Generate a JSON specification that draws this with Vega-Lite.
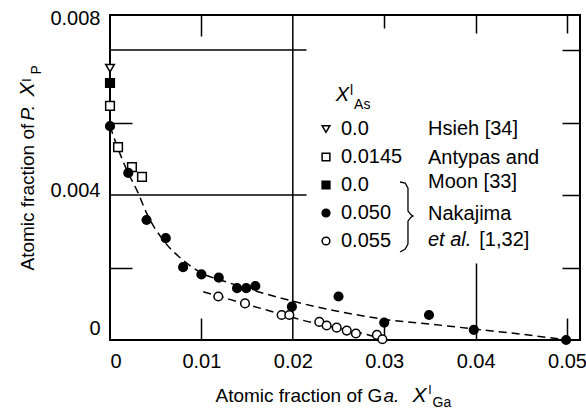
{
  "$schema": "https://vega.github.io/schema/vega-lite/v6.json",
  "width": 470,
  "height": 325,
  "autosize": {"type": "none"},
  "padding": {"left": 110, "top": 15, "right": 6, "bottom": 70},
  "background": "white",
  "config": {
    "font": "Liberation Sans",
    "view": {"stroke": "black", "strokeWidth": 2},
    "axis": {"grid": false, "domain": false, "labelColor": "black", "titleColor": "black", "tickColor": "black", "titleFontWeight": "normal", "titleFont": "Liberation Sans", "labelFont": "Liberation Sans"},
    "legend": {"title": null, "orient": "none", "legendX": 206, "legendY": 104, "padding": 0, "rowPadding": 8, "labelOffset": 5,
      "labelFontSize": 20, "labelFont": "Liberation Sans", "labelColor": "black", "symbolSize": 60, "symbolStrokeWidth": 1.5}
  },
  "datasets": {
    "gridlines": [
      {"x": 0, "x2": 0.0215, "y": 0.008, "y2": 0.008},
      {"x": 0, "x2": 0.0215, "y": 0.004, "y2": 0.004},
      {"x": 0.02, "x2": 0.02, "y": 0, "y2": 0.008966}
    ],
    "curves": [
      {"curve": "upper", "x": 0, "y": 0.0059},
      {"curve": "upper", "x": 0.001, "y": 0.0052},
      {"curve": "upper", "x": 0.002, "y": 0.0046},
      {"curve": "upper", "x": 0.003, "y": 0.0041},
      {"curve": "upper", "x": 0.004, "y": 0.0035},
      {"curve": "upper", "x": 0.006, "y": 0.0027},
      {"curve": "upper", "x": 0.008, "y": 0.0022},
      {"curve": "upper", "x": 0.010, "y": 0.00185},
      {"curve": "upper", "x": 0.0124, "y": 0.00163},
      {"curve": "upper", "x": 0.0168, "y": 0.00129},
      {"curve": "upper", "x": 0.0208, "y": 0.00102},
      {"curve": "upper", "x": 0.0252, "y": 0.00078},
      {"curve": "upper", "x": 0.030, "y": 0.00057},
      {"curve": "upper", "x": 0.035, "y": 0.00044},
      {"curve": "upper", "x": 0.040, "y": 0.0003},
      {"curve": "upper", "x": 0.045, "y": 0.00016},
      {"curve": "upper", "x": 0.050, "y": 0.0},
      {"curve": "lower", "x": 0.0102, "y": 0.00133},
      {"curve": "lower", "x": 0.0131, "y": 0.00112},
      {"curve": "lower", "x": 0.0175, "y": 0.0008},
      {"curve": "lower", "x": 0.021, "y": 0.00055},
      {"curve": "lower", "x": 0.0244, "y": 0.00036},
      {"curve": "lower", "x": 0.0281, "y": 0.00015},
      {"curve": "lower", "x": 0.0298, "y": 0.00002}
    ],
    "brace": [
      {"i": 1, "x": 0.03173, "y": 0.004359},
      {"i": 2, "x": 0.0323, "y": 0.00433},
      {"i": 3, "x": 0.0326, "y": 0.00419},
      {"i": 4, "x": 0.0326, "y": 0.00356},
      {"i": 5, "x": 0.0329, "y": 0.00346},
      {"i": 6, "x": 0.03315, "y": 0.003421},
      {"i": 7, "x": 0.0329, "y": 0.00338},
      {"i": 8, "x": 0.0326, "y": 0.00328},
      {"i": 9, "x": 0.0326, "y": 0.00265},
      {"i": 10, "x": 0.0323, "y": 0.00251},
      {"i": 11, "x": 0.03173, "y": 0.002428}
    ],
    "notes": [
      {"label": "Hsieh [34]", "x": 0.03479, "y": 0.005655},
      {"label": "Antypas and", "x": 0.03479, "y": 0.004855},
      {"label": "Moon [33]", "x": 0.03479, "y": 0.004193},
      {"label": "Nakajima", "x": 0.03479, "y": 0.00331},
      {"label": "[1,32]", "x": 0.0404, "y": 0.002593}
    ],
    "notesItalic": [
      {"label": "et al.", "x": 0.03479, "y": 0.002593},
      {"label": "X", "x": 0.0247, "y": 0.006593}
    ],
    "notesSmall": [
      {"label": "l", "x": 0.02625, "y": 0.00676},
      {"label": "As", "x": 0.0267, "y": 0.00637}
    ],
    "points": [
      {"series": "Hsieh", "xga": 0, "xp": 0.0075},
      {"series": "Antypas", "xga": 0, "xp": 0.00646},
      {"series": "Antypas", "xga": 0.00088, "xp": 0.00532},
      {"series": "Antypas", "xga": 0.0024, "xp": 0.00477},
      {"series": "Antypas", "xga": 0.0035, "xp": 0.0045},
      {"series": "Nak0", "xga": 0, "xp": 0.00709},
      {"series": "Nak050", "xga": 0, "xp": 0.0059},
      {"series": "Nak050", "xga": 0.002, "xp": 0.00461},
      {"series": "Nak050", "xga": 0.004, "xp": 0.00331},
      {"series": "Nak050", "xga": 0.0061, "xp": 0.00281},
      {"series": "Nak050", "xga": 0.008, "xp": 0.00201},
      {"series": "Nak050", "xga": 0.010, "xp": 0.00181},
      {"series": "Nak050", "xga": 0.0119, "xp": 0.00172},
      {"series": "Nak050", "xga": 0.0139, "xp": 0.00143},
      {"series": "Nak050", "xga": 0.0149, "xp": 0.00143},
      {"series": "Nak050", "xga": 0.0159, "xp": 0.00149},
      {"series": "Nak050", "xga": 0.0199, "xp": 0.00092},
      {"series": "Nak050", "xga": 0.025, "xp": 0.0012},
      {"series": "Nak050", "xga": 0.030, "xp": 0.00048},
      {"series": "Nak050", "xga": 0.0349, "xp": 0.00069},
      {"series": "Nak050", "xga": 0.0398, "xp": 0.00028},
      {"series": "Nak050", "xga": 0.0499, "xp": 0.0},
      {"series": "Nak055", "xga": 0.01185, "xp": 0.0012},
      {"series": "Nak055", "xga": 0.01477, "xp": 0.00101},
      {"series": "Nak055", "xga": 0.01878, "xp": 0.00069},
      {"series": "Nak055", "xga": 0.01962, "xp": 0.00069},
      {"series": "Nak055", "xga": 0.0229, "xp": 0.0005},
      {"series": "Nak055", "xga": 0.0237, "xp": 0.0004},
      {"series": "Nak055", "xga": 0.0248, "xp": 0.00034},
      {"series": "Nak055", "xga": 0.0259, "xp": 0.00026},
      {"series": "Nak055", "xga": 0.0269, "xp": 0.00018},
      {"series": "Nak055", "xga": 0.0292, "xp": 0.00014},
      {"series": "Nak055", "xga": 0.0298, "xp": 0.00002}
    ]
  },
  "resolve": {"axis": {"x": "independent", "y": "independent"}},
  "layer": [
    {
      "data": {"name": "gridlines"},
      "mark": {"type": "rule", "stroke": "black", "strokeWidth": 1.5},
      "encoding": {
        "x": {"field": "x", "type": "quantitative", "scale": {"domain": [0, 0.05142], "nice": false, "zero": false},
          "axis": {"orient": "bottom", "values": [0.01, 0.03, 0.04, 0.05], "labels": false, "ticks": true, "tickWidth": 1.5,
            "tickSize": {"condition": {"test": "datum.value == 0.04", "value": -77}, "value": -22},
            "title": "a.", "titleFontStyle": "italic", "titleFontSize": 19, "titleX": 273, "titleY": 61, "titleAlign": "left", "titleBaseline": "alphabetic"}},
        "x2": {"field": "x2"},
        "y": {"field": "y", "type": "quantitative", "scale": {"domain": [0, 0.008966], "nice": false, "zero": false},
          "axis": {"orient": "left", "values": [0.002, 0.006], "labels": false, "ticks": true, "tickWidth": 1.5, "tickSize": -22,
            "title": "P.", "titleFontStyle": "italic", "titleFontSize": 19, "titleX": -77, "titleY": 105, "titleAngle": -90, "titleAlign": "left", "titleBaseline": "alphabetic"}},
        "y2": {"field": "y2"}
      }
    },
    {
      "data": {"name": "curves"},
      "mark": {"type": "line", "stroke": "black", "strokeWidth": 1.5, "strokeDash": [8, 5], "interpolate": "monotone"},
      "encoding": {
        "x": {"field": "x", "type": "quantitative", "scale": {"domain": [0, 0.05142], "nice": false, "zero": false},
          "axis": {"orient": "top", "values": [0.01, 0.03, 0.04, 0.05], "labels": false, "ticks": true, "tickWidth": 1.5,
            "tickSize": {"condition": [{"test": "datum.value == 0.01", "value": -21}, {"test": "datum.value == 0.03", "value": -13}], "value": -18},
            "title": null}},
        "y": {"field": "y", "type": "quantitative", "scale": {"domain": [0, 0.008966], "nice": false, "zero": false},
          "axis": {"orient": "right", "values": [0.002, 0.004, 0.006, 0.008], "labels": false, "ticks": true, "tickWidth": 1.5, "tickSize": -18, "title": null}},
        "detail": {"field": "curve"}
      }
    },
    {
      "data": {"name": "brace"},
      "mark": {"type": "line", "stroke": "black", "strokeWidth": 1.3},
      "encoding": {
        "x": {"field": "x", "type": "quantitative", "scale": {"domain": [0, 0.05142], "nice": false, "zero": false},
          "axis": {"orient": "bottom", "labels": false, "ticks": false, "title": "X", "titleFontStyle": "italic", "titleFontSize": 21, "titleX": 302, "titleY": 61, "titleAlign": "left", "titleBaseline": "alphabetic"}},
        "y": {"field": "y", "type": "quantitative", "scale": {"domain": [0, 0.008966], "nice": false, "zero": false},
          "axis": {"orient": "left", "labels": false, "ticks": false, "title": "X", "titleFontStyle": "italic", "titleFontSize": 21, "titleX": -77, "titleY": 81, "titleAngle": -90, "titleAlign": "left", "titleBaseline": "alphabetic"}},
        "order": {"field": "i", "type": "quantitative"}
      }
    },
    {
      "data": {"name": "notes"},
      "mark": {"type": "text", "align": "left", "baseline": "alphabetic", "fontSize": 20, "font": "Liberation Sans", "color": "black"},
      "encoding": {
        "x": {"field": "x", "type": "quantitative", "scale": {"domain": [0, 0.05142], "nice": false, "zero": false},
          "axis": {"orient": "bottom", "labels": false, "ticks": false, "title": "l", "titleFontSize": 13, "titleX": 318, "titleY": 53, "titleAlign": "left", "titleBaseline": "alphabetic"}},
        "y": {"field": "y", "type": "quantitative", "scale": {"domain": [0, 0.008966], "nice": false, "zero": false},
          "axis": {"orient": "left", "labels": false, "ticks": false, "title": "l", "titleFontSize": 13, "titleX": -80, "titleY": 66, "titleAngle": -90, "titleAlign": "left", "titleBaseline": "alphabetic"}},
        "text": {"field": "label"}
      }
    },
    {
      "data": {"name": "notesItalic"},
      "mark": {"type": "text", "align": "left", "baseline": "alphabetic", "fontSize": 20, "fontStyle": "italic", "font": "Liberation Sans", "color": "black"},
      "encoding": {
        "x": {"field": "x", "type": "quantitative", "scale": {"domain": [0, 0.05142], "nice": false, "zero": false},
          "axis": {"orient": "bottom", "labels": false, "ticks": false, "title": "Ga", "titleFontSize": 14, "titleX": 322, "titleY": 66, "titleAlign": "left", "titleBaseline": "alphabetic"}},
        "y": {"field": "y", "type": "quantitative", "scale": {"domain": [0, 0.008966], "nice": false, "zero": false},
          "axis": {"orient": "left", "labels": false, "ticks": false, "title": "P", "titleFontSize": 14, "titleX": -70, "titleY": 59, "titleAngle": -90, "titleAlign": "left", "titleBaseline": "alphabetic"}},
        "text": {"field": "label"}
      }
    },
    {
      "data": {"name": "notesSmall"},
      "mark": {"type": "text", "align": "left", "baseline": "alphabetic", "fontSize": 14, "font": "Liberation Sans", "color": "black"},
      "encoding": {
        "x": {"field": "x", "type": "quantitative", "scale": {"domain": [0, 0.05142], "nice": false, "zero": false}, "axis": null},
        "y": {"field": "y", "type": "quantitative", "scale": {"domain": [0, 0.008966], "nice": false, "zero": false}, "axis": null},
        "text": {"field": "label"}
      }
    },
    {
      "data": {"name": "points"},
      "mark": {"type": "point", "filled": false, "strokeWidth": 1.5, "size": 75, "opacity": 1},
      "encoding": {
        "x": {"field": "xga", "type": "quantitative", "scale": {"domain": [0, 0.05142], "nice": false, "zero": false},
          "axis": {"orient": "bottom", "values": [0, 0.01, 0.02, 0.03, 0.04, 0.05], "ticks": false, "labelFontSize": 20, "labelPadding": 11,
            "labelExpr": "datum.value == 0 ? '0' : format(datum.value, '.2f')",
            "title": "Atomic fraction of G", "titleFontSize": 19, "titleX": 105, "titleY": 61, "titleAlign": "left", "titleBaseline": "alphabetic"}},
        "y": {"field": "xp", "type": "quantitative", "scale": {"domain": [0, 0.008966], "nice": false, "zero": false},
          "axis": {"orient": "left", "values": [0, 0.004, 0.008], "ticks": false, "labelFontSize": 20, "labelPadding": 10,
            "labelExpr": "datum.value == 0 ? '0' : format(datum.value, '.3f')",
            "labelOffset": {"condition": [{"test": "datum.value == 0", "value": -12}, {"test": "datum.value == 0.008", "value": -32}], "value": -5},
            "title": "Atomic fraction of ", "titleFontSize": 19, "titleX": -77, "titleY": 255, "titleAngle": -90, "titleAlign": "left", "titleBaseline": "alphabetic"}},
        "shape": {"field": "series", "type": "nominal",
          "scale": {"domain": ["Hsieh", "Antypas", "Nak0", "Nak050", "Nak055"], "range": ["triangle-down", "square", "square", "circle", "circle"]},
          "legend": {"labelExpr": "datum.label == 'Hsieh' ? '0.0' : datum.label == 'Antypas' ? '0.0145' : datum.label == 'Nak0' ? '0.0' : datum.label == 'Nak050' ? '0.050' : '0.055'"}},
        "fill": {"field": "series", "type": "nominal",
          "scale": {"domain": ["Hsieh", "Antypas", "Nak0", "Nak050", "Nak055"], "range": ["white", "white", "black", "black", "white"]},
          "legend": {"labelExpr": "datum.label == 'Hsieh' ? '0.0' : datum.label == 'Antypas' ? '0.0145' : datum.label == 'Nak0' ? '0.0' : datum.label == 'Nak050' ? '0.050' : '0.055'"}},
        "stroke": {"field": "series", "type": "nominal",
          "scale": {"domain": ["Hsieh", "Antypas", "Nak0", "Nak050", "Nak055"], "range": ["black", "black", "black", "black", "black"]},
          "legend": {"labelExpr": "datum.label == 'Hsieh' ? '0.0' : datum.label == 'Antypas' ? '0.0145' : datum.label == 'Nak0' ? '0.0' : datum.label == 'Nak050' ? '0.050' : '0.055'"}}
      }
    }
  ]
}
